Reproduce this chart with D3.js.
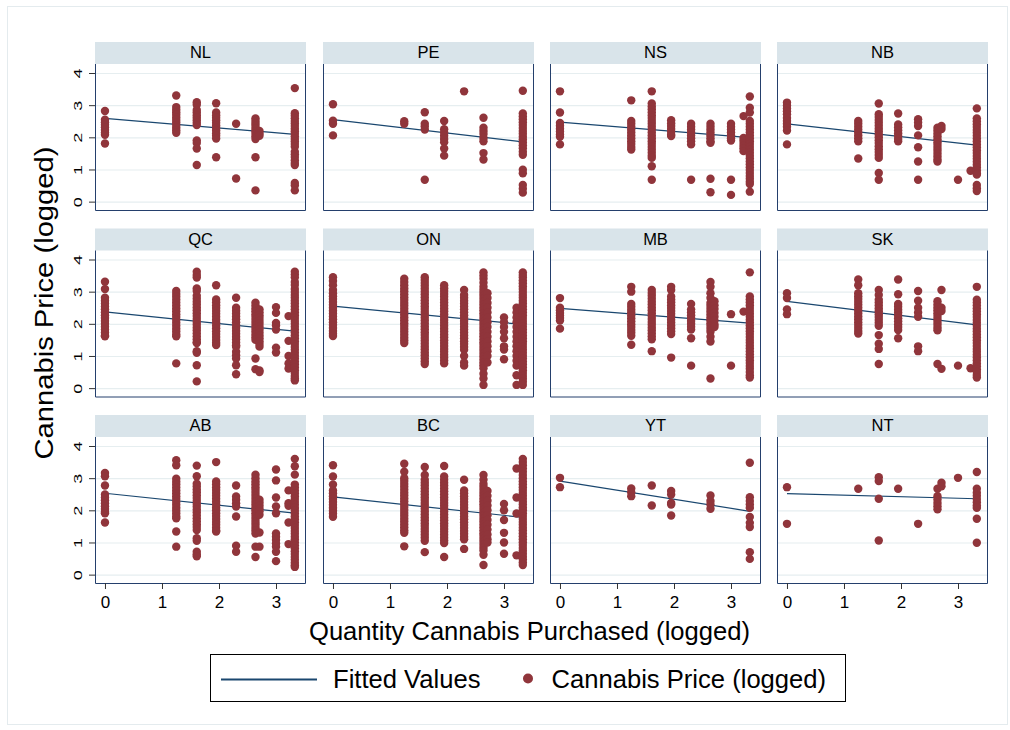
<!DOCTYPE html>
<html>
<head>
<meta charset="utf-8">
<script src="https://cdn.jsdelivr.net/npm/d3@7"></script>
<style>
  html, body { margin: 0; padding: 0; background: #fff; }
  svg { display: block; }
  text { font-family: "Liberation Sans", Arial, Helvetica, sans-serif; fill: #000; }
</style>
</head>
<body>
<svg id="chart" width="1010" height="730"></svg>
<script>
// Province panels, in display order (4 per row)
const provinces = ["NL", "PE", "NS", "NB", "QC", "ON", "MB", "SK", "AB", "BC", "YT", "NT"];

// Purchase sizes (log grams) that the price columns line up with
const quantityLevels = [0, 1.25, 1.61, 1.95, 2.30, 2.64, 2.71, 3.00, 3.22, 3.33];

// Axis ticks
const priceTicks = [0, 1, 2, 3, 4];
const quantityTicks = [0, 1, 2, 3];

// Logged prices, one list per quantity level
const priceNL = [
  [2.82, 2.55, 2.47, 2.39, 2.31, 2.23, 2.15, 2.08, 1.81],
  [3.30, 2.94, 2.86, 2.78, 2.70, 2.62, 2.54, 2.46, 2.38, 2.30, 2.22, 2.14],
  [3.09, 3.01, 2.85, 2.77, 2.69, 2.61, 2.53, 2.45, 2.38, 1.90, 1.82, 1.65, 1.14],
  [3.06, 2.77, 2.69, 2.61, 2.53, 2.45, 2.37, 2.29, 2.21, 2.13, 2.05, 1.96, 1.38],
  [2.42, 0.72],
  [2.59, 2.51, 2.43, 2.35, 2.27, 2.19, 2.11, 2.03, 1.95, 1.38, 0.35],
  [2.20, 2.12, 2.05],
  [],
  [],
  [3.53, 2.75, 2.67, 2.59, 2.51, 2.43, 2.35, 2.27, 2.19, 2.11, 2.03, 1.95, 1.87, 1.79, 1.71, 1.55, 1.47, 1.39, 1.29, 1.20, 1.14, 0.58, 0.50, 0.35]
];
const pricePE = [
  [3.03, 2.52, 2.42, 2.06],
  [2.50, 2.42],
  [2.78, 2.42, 2.34, 2.24, 0.68],
  [2.51, 2.25, 2.15, 2.05, 1.95, 1.85, 1.65, 1.43],
  [3.43],
  [2.61, 2.30, 2.20, 2.10, 1.98, 1.88, 1.51, 1.31],
  [],
  [],
  [],
  [3.45, 2.74, 2.65, 2.56, 2.47, 2.38, 2.29, 2.20, 2.11, 2.02, 1.93, 1.84, 1.75, 1.66, 1.55, 1.46, 0.99, 0.88, 0.52, 0.40, 0.28]
];
const priceNS = [
  [3.43, 2.77, 2.45, 2.36, 2.27, 2.18, 2.09, 2.02, 1.78],
  [3.15, 2.51, 2.42, 2.33, 2.24, 2.15, 2.06, 1.97, 1.88, 1.79, 1.70, 1.62],
  [3.43, 3.05, 2.96, 2.87, 2.78, 2.69, 2.60, 2.51, 2.42, 2.33, 2.24, 2.15, 2.06, 1.97, 1.88, 1.79, 1.70, 1.61, 1.52, 1.43, 1.36, 1.10, 0.68],
  [2.53, 2.44, 2.35, 2.26, 2.17, 2.08, 2.04],
  [2.42, 2.33, 2.24, 2.15, 2.06, 1.97, 1.88, 1.78, 0.68],
  [2.42, 2.33, 2.24, 2.15, 2.06, 1.97, 1.88, 1.83, 0.71, 0.29],
  [],
  [2.42, 2.33, 2.24, 2.15, 2.06, 1.97, 1.90, 0.68, 0.21],
  [2.66, 1.98, 1.90, 1.82, 1.74, 1.66, 1.57],
  [3.27, 2.92, 2.77, 2.51, 2.42, 2.33, 2.24, 2.15, 2.06, 1.97, 1.88, 1.79, 1.70, 1.61, 1.52, 1.43, 1.34, 1.25, 1.16, 1.07, 0.98, 0.89, 0.80, 0.71, 0.62, 0.55, 0.31]
];
const priceNB = [
  [3.08, 2.99, 2.90, 2.81, 2.72, 2.60, 2.51, 2.42, 2.33, 2.21, 1.78],
  [2.51, 2.42, 2.33, 2.24, 2.15, 2.06, 1.97, 1.88, 1.34],
  [3.05, 2.72, 2.63, 2.54, 2.45, 2.36, 2.27, 2.18, 2.09, 2.00, 1.91, 1.82, 1.72, 1.63, 1.54, 1.45, 1.36, 0.89, 0.68],
  [2.74, 2.40, 2.31, 2.22, 2.13, 2.04, 1.95, 1.88],
  [2.56, 2.46, 2.35, 2.06, 1.69, 1.25, 0.68],
  [2.30, 2.21, 2.12, 2.03, 1.94, 1.85, 1.76, 1.67, 1.58, 1.49, 1.40, 1.31, 1.25],
  [2.35, 2.26],
  [0.68],
  [0.96],
  [2.90, 2.59, 2.50, 2.41, 2.32, 2.23, 2.14, 2.05, 1.96, 1.87, 1.78, 1.69, 1.60, 1.51, 1.42, 1.33, 1.24, 1.15, 1.06, 0.97, 0.88, 0.84, 0.52, 0.42, 0.33]
];
const priceQC = [
  [3.31, 3.08, 2.81, 2.72, 2.63, 2.54, 2.45, 2.36, 2.27, 2.18, 2.09, 2.00, 1.91, 1.82, 1.73, 1.64, 1.61],
  [3.02, 2.93, 2.84, 2.75, 2.66, 2.57, 2.48, 2.39, 2.30, 2.21, 2.12, 2.03, 1.94, 1.85, 1.76, 1.67, 1.61, 0.77],
  [3.62, 3.52, 3.44, 3.10, 3.02, 2.87, 2.78, 2.69, 2.60, 2.51, 2.42, 2.33, 2.24, 2.15, 2.06, 1.97, 1.88, 1.79, 1.70, 1.61, 1.52, 1.43, 1.40, 1.15, 1.10, 0.71, 0.21],
  [3.20, 2.76, 2.67, 2.58, 2.49, 2.40, 2.31, 2.22, 2.13, 2.04, 1.95, 1.86, 1.77, 1.68, 1.59, 1.50, 1.41, 1.34],
  [2.81, 2.50, 2.41, 2.32, 2.23, 2.14, 2.05, 1.96, 1.87, 1.78, 1.69, 1.60, 1.51, 1.42, 1.33, 1.29, 1.13, 1.02, 0.92, 0.71, 0.43],
  [2.66, 2.57, 2.48, 2.39, 2.30, 2.21, 2.12, 2.03, 1.94, 1.85, 1.76, 1.67, 1.58, 1.50, 0.92, 0.59],
  [2.45, 2.36, 2.27, 2.18, 2.09, 2.00, 1.91, 1.82, 1.73, 1.64, 1.55, 1.46, 1.37, 1.29, 0.55, 0.50],
  [2.52, 2.34, 2.03, 1.95, 1.82, 1.26, 1.11],
  [2.24, 1.47, 1.00, 0.77, 0.61],
  [3.62, 3.53, 3.44, 3.30, 3.21, 3.08, 2.99, 2.90, 2.81, 2.72, 2.63, 2.54, 2.45, 2.36, 2.27, 2.18, 2.09, 2.00, 1.91, 1.82, 1.73, 1.64, 1.55, 1.46, 1.37, 1.28, 1.19, 1.10, 1.01, 0.92, 0.83, 0.74, 0.65, 0.56, 0.47, 0.38, 0.30, 0.24]
];
const priceON = [
  [3.45, 3.33, 3.20, 3.05, 2.95, 2.86, 2.77, 2.68, 2.59, 2.50, 2.41, 2.32, 2.23, 2.14, 2.05, 1.96, 1.87, 1.78, 1.69, 1.62],
  [3.40, 3.30, 3.20, 3.10, 3.01, 2.92, 2.83, 2.74, 2.65, 2.56, 2.47, 2.38, 2.29, 2.20, 2.11, 2.02, 1.93, 1.84, 1.75, 1.66, 1.57, 1.48, 1.40],
  [3.45, 3.36, 3.27, 3.18, 3.09, 3.00, 2.91, 2.82, 2.73, 2.64, 2.55, 2.46, 2.37, 2.28, 2.19, 2.10, 2.01, 1.92, 1.83, 1.74, 1.65, 1.56, 1.47, 1.38, 1.29, 1.20, 1.11, 1.02, 0.93, 0.84, 0.75],
  [3.20, 3.11, 3.02, 2.93, 2.84, 2.75, 2.66, 2.57, 2.48, 2.39, 2.30, 2.21, 2.12, 2.03, 1.94, 1.85, 1.76, 1.67, 1.58, 1.49, 1.40, 1.31, 1.22, 1.13, 1.04, 0.95, 0.86, 0.77],
  [3.05, 2.90, 2.81, 2.72, 2.63, 2.54, 2.45, 2.36, 2.27, 2.18, 2.09, 2.00, 1.91, 1.82, 1.73, 1.64, 1.55, 1.46, 1.37, 1.28, 1.19, 1.00, 0.80, 0.70],
  [3.60, 3.50, 3.40, 3.28, 3.15, 3.05, 2.96, 2.87, 2.78, 2.69, 2.60, 2.51, 2.42, 2.33, 2.24, 2.15, 2.06, 1.97, 1.88, 1.79, 1.70, 1.61, 1.52, 1.43, 1.34, 1.25, 1.16, 1.07, 0.98, 0.89, 0.80, 0.71, 0.62, 0.45, 0.30, 0.10],
  [2.95, 2.80, 2.65, 2.50, 2.35, 2.20, 2.05, 1.90, 1.75, 1.60, 1.45, 1.30, 1.15, 1.00, 0.80],
  [2.20, 2.05, 1.90, 1.75, 1.55, 1.30, 1.20, 0.90],
  [2.50, 2.35, 2.20, 2.05, 1.90, 1.75, 1.60, 1.45, 1.30, 1.15, 1.00, 0.85, 0.70, 0.40, 0.10],
  [3.60, 3.52, 3.44, 3.35, 3.26, 3.17, 3.08, 2.99, 2.90, 2.81, 2.72, 2.63, 2.54, 2.45, 2.36, 2.27, 2.18, 2.09, 2.00, 1.91, 1.82, 1.73, 1.64, 1.55, 1.46, 1.37, 1.28, 1.19, 1.10, 1.01, 0.92, 0.83, 0.74, 0.65, 0.56, 0.47, 0.38, 0.29, 0.20, 0.10]
];
const priceMB = [
  [2.80, 2.50, 2.42, 2.34, 2.26, 2.18, 2.10, 1.85],
  [3.15, 3.00, 2.62, 2.53, 2.44, 2.35, 2.26, 2.17, 2.08, 1.99, 1.90, 1.81, 1.72, 1.63, 1.35],
  [3.05, 2.96, 2.87, 2.78, 2.69, 2.60, 2.51, 2.42, 2.33, 2.24, 2.15, 2.06, 1.97, 1.88, 1.79, 1.70, 1.61, 1.52, 1.15],
  [3.15, 3.05, 2.85, 2.76, 2.67, 2.58, 2.49, 2.40, 2.31, 2.22, 2.13, 2.04, 1.95, 1.86, 1.77, 1.68, 0.95],
  [2.62, 2.45, 2.36, 2.27, 2.18, 2.09, 2.00, 1.91, 1.82, 1.55, 0.70],
  [3.30, 3.15, 2.95, 2.80, 2.65, 2.56, 2.47, 2.38, 2.29, 2.20, 2.11, 2.02, 1.93, 1.84, 1.75, 1.60, 1.45, 0.30],
  [2.70, 2.58, 2.46, 2.34, 2.22, 2.10, 1.98, 1.90],
  [2.30, 0.70],
  [2.38],
  [3.60, 2.85, 2.76, 2.67, 2.58, 2.49, 2.40, 2.31, 2.22, 2.13, 2.04, 1.95, 1.86, 1.77, 1.68, 1.59, 1.50, 1.41, 1.32, 1.23, 1.14, 1.05, 0.96, 0.87, 0.78, 0.69, 0.60, 0.50, 0.40, 0.33]
];
const priceSK = [
  [2.95, 2.80, 2.45, 2.30],
  [3.38, 3.20, 2.95, 2.86, 2.77, 2.68, 2.59, 2.50, 2.41, 2.32, 2.23, 2.14, 2.05, 1.96, 1.87, 1.78, 1.70],
  [3.05, 2.90, 2.75, 2.66, 2.57, 2.48, 2.39, 2.30, 2.21, 2.12, 2.03, 1.94, 1.65, 1.38, 1.22, 0.75],
  [3.38, 2.92, 2.62, 2.53, 2.44, 2.35, 2.26, 2.17, 2.08, 1.99, 1.90, 1.81, 1.55],
  [3.02, 2.72, 2.50, 2.35, 2.22, 1.30, 1.15],
  [2.70, 2.60, 2.51, 2.42, 2.33, 2.24, 2.15, 2.06, 1.97, 1.88, 1.80, 0.75],
  [3.05, 2.50, 2.40, 0.60],
  [0.70],
  [0.62],
  [3.15, 2.75, 2.66, 2.57, 2.48, 2.39, 2.30, 2.21, 2.12, 2.03, 1.94, 1.85, 1.76, 1.67, 1.58, 1.49, 1.40, 1.31, 1.22, 1.13, 1.04, 0.95, 0.86, 0.77, 0.68, 0.59, 0.50, 0.41, 0.33]
];
const priceAB = [
  [3.16, 3.06, 2.77, 2.49, 2.40, 2.31, 2.22, 2.13, 2.04, 1.95, 1.91, 1.62],
  [3.56, 3.40, 2.98, 2.89, 2.80, 2.71, 2.62, 2.53, 2.44, 2.35, 2.26, 2.17, 2.08, 1.99, 1.90, 1.81, 1.75, 1.34, 0.87],
  [3.39, 3.06, 2.83, 2.74, 2.65, 2.56, 2.47, 2.38, 2.29, 2.20, 2.11, 2.02, 1.93, 1.84, 1.75, 1.66, 1.57, 1.48, 1.39, 1.13, 1.05, 0.71, 0.63, 0.57],
  [3.50, 2.90, 2.81, 2.72, 2.63, 2.54, 2.45, 2.36, 2.27, 2.18, 2.09, 2.00, 1.91, 1.82, 1.73, 1.64, 1.55, 1.46, 1.37, 1.34],
  [2.77, 2.43, 2.33, 2.22, 2.12, 1.81, 0.90, 0.71],
  [3.11, 3.00, 2.90, 2.81, 2.72, 2.63, 2.54, 2.45, 2.36, 2.27, 2.18, 2.09, 2.00, 1.91, 1.82, 1.73, 1.64, 1.55, 1.46, 1.37, 1.28, 0.87, 0.55],
  [2.33, 2.24, 2.15, 2.06, 1.97, 1.86, 1.31, 0.87],
  [3.27, 2.93, 2.40, 2.12, 1.91, 1.28, 1.18, 1.08, 0.97, 0.87, 0.71, 0.42],
  [2.62, 2.22, 2.14, 1.62, 0.95],
  [3.60, 3.37, 3.11, 2.80, 2.71, 2.62, 2.53, 2.44, 2.35, 2.26, 2.17, 2.08, 1.99, 1.90, 1.81, 1.72, 1.63, 1.54, 1.45, 1.36, 1.27, 1.18, 1.09, 1.00, 0.91, 0.82, 0.73, 0.64, 0.55, 0.46, 0.37, 0.29, 0.24]
];
const priceBC = [
  [3.40, 3.05, 2.80, 2.62, 2.53, 2.44, 2.35, 2.26, 2.17, 2.08, 1.99, 1.90, 1.80],
  [3.45, 3.20, 3.00, 2.91, 2.82, 2.73, 2.64, 2.55, 2.46, 2.37, 2.28, 2.19, 2.10, 2.01, 1.92, 1.83, 1.74, 1.65, 1.56, 1.47, 1.38, 1.30, 0.88],
  [3.35, 3.10, 2.95, 2.86, 2.77, 2.68, 2.59, 2.50, 2.41, 2.32, 2.23, 2.14, 2.05, 1.96, 1.87, 1.78, 1.69, 1.60, 1.51, 1.42, 1.33, 1.24, 1.15, 1.05, 0.70],
  [3.38, 3.05, 2.95, 2.86, 2.77, 2.68, 2.59, 2.50, 2.41, 2.32, 2.23, 2.14, 2.05, 1.96, 1.87, 1.78, 1.69, 1.60, 1.51, 1.42, 1.33, 1.24, 1.15, 1.06, 0.98, 0.55],
  [2.95, 2.62, 2.53, 2.44, 2.35, 2.26, 2.17, 2.08, 1.99, 1.90, 1.81, 1.72, 1.63, 1.54, 1.45, 1.36, 1.27, 1.18, 1.10, 0.80],
  [3.10, 2.95, 2.82, 2.73, 2.64, 2.55, 2.46, 2.37, 2.28, 2.19, 2.10, 2.01, 1.92, 1.83, 1.74, 1.65, 1.56, 1.47, 1.38, 1.29, 1.20, 1.11, 1.02, 0.93, 0.84, 0.75, 0.62, 0.30],
  [2.60, 2.45, 2.30, 2.15, 2.00, 1.85, 1.70, 1.55, 1.40, 1.25, 1.10, 1.00],
  [2.20, 2.00, 1.70, 1.30, 1.00, 0.65],
  [3.30, 2.40, 1.90, 0.60],
  [3.60, 3.50, 3.40, 3.30, 3.20, 3.10, 3.00, 2.90, 2.81, 2.72, 2.63, 2.54, 2.45, 2.36, 2.27, 2.18, 2.09, 2.00, 1.91, 1.82, 1.73, 1.64, 1.55, 1.46, 1.37, 1.28, 1.19, 1.10, 1.01, 0.92, 0.83, 0.74, 0.65, 0.56, 0.47, 0.38, 0.30]
];
const priceYT = [
  [3.01, 2.72],
  [2.68, 2.56, 2.44],
  [2.77, 2.15],
  [2.60, 2.49, 2.23, 2.18, 1.84],
  [],
  [2.46, 2.29, 2.18, 2.05],
  [],
  [],
  [],
  [3.48, 2.41, 2.29, 2.18, 2.08, 1.79, 1.61, 1.48, 0.70, 0.49]
];
const priceNT = [
  [2.72, 1.58],
  [2.67],
  [3.03, 2.91, 2.36, 1.06],
  [2.67],
  [1.58],
  [2.67, 2.44, 2.34, 2.23, 2.13, 2.03],
  [2.86, 2.75],
  [3.01],
  [],
  [3.19, 2.67, 2.55, 2.45, 2.35, 2.25, 2.15, 2.08, 1.74, 0.99]
];

// Fitted values at the smallest and largest quantity, in province order
const fitAtMin = [2.59, 2.55, 2.47, 2.42, 2.37, 2.55, 2.48, 2.70, 2.53, 2.42, 2.91, 2.52];
const fitAtMax = [2.09, 1.86, 1.99, 1.76, 1.77, 1.98, 2.02, 1.97, 1.91, 1.78, 1.97, 2.36];

const priceTables = [priceNL, pricePE, priceNS, priceNB, priceQC, priceON,
                     priceMB, priceSK, priceAB, priceBC, priceYT, priceNT];

// ---- layout ----
const colLeft = [95, 323, 550, 777];
const rowTop = [42, 228.5, 415];
const panelW = 211, stripH = 22, plotH = 146;

const markerColor = "#90353b";
const lineColor = "#1a476f";
const stripColor = "#d9e4ea";
const gridColor = "#e6eef0";
const frameColor = "#243f6c";

const x = d3.scaleLinear().domain([-0.175, 3.526]).range([0, panelW]);
const y = d3.scaleLinear().domain([-0.26, 4.28]).range([plotH, 0]);

const svg = d3.select("#chart");

// outer graph region outline
svg.append("rect")
  .attr("x", 7.5).attr("y", 6.5).attr("width", 1000).attr("height", 718)
  .attr("fill", "#fff").attr("stroke", "#e4ebee");

provinces.forEach((code, i) => {
  const r = Math.floor(i / 4), c = i % 4;
  const g = svg.append("g").attr("transform", `translate(${colLeft[c]},${rowTop[r]})`);

  // strip with the province code
  g.append("rect").attr("x", 0).attr("y", 0).attr("width", panelW).attr("height", stripH)
    .attr("fill", stripColor);
  g.append("text").attr("x", panelW / 2).attr("y", 16)
    .attr("text-anchor", "middle").attr("font-size", 16.5).text(code);

  const p = g.append("g").attr("transform", `translate(0,${stripH})`);

  // horizontal grid
  p.selectAll("line.grid").data(priceTicks).join("line")
    .attr("class", "grid")
    .attr("x1", 0).attr("x2", panelW)
    .attr("y1", d => y(d) + 0.5).attr("y2", d => y(d) + 0.5)
    .attr("stroke", gridColor).attr("stroke-width", 1.2);

  // fitted line
  const fitData = [[quantityLevels[0], fitAtMin[i]], [quantityLevels[quantityLevels.length - 1], fitAtMax[i]]];
  p.append("path")
    .attr("d", d3.line().x(d => x(d[0])).y(d => y(d[1]))(fitData))
    .attr("fill", "none").attr("stroke", lineColor).attr("stroke-width", 1.2);

  // observations
  const pts = [];
  priceTables[i].forEach((col, k) => col.forEach(v => pts.push([quantityLevels[k], v])));
  p.selectAll("circle").data(pts).join("circle")
    .attr("cx", d => x(d[0])).attr("cy", d => y(d[1]))
    .attr("r", 4.2).attr("fill", markerColor);

  // plot region outline (left, bottom, right)
  p.append("path")
    .attr("d", `M0.5,0V${plotH + 0.5}H${panelW - 0.5}V0`)
    .attr("fill", "none").attr("stroke", frameColor).attr("stroke-width", 1);

  // y axis on the first column
  if (c === 0) {
    const ax = p.append("g")
      .call(d3.axisLeft(y).tickValues(priceTicks).tickSize(6).tickSizeOuter(0).tickFormat(d3.format("d")));
    ax.select(".domain").remove();
    ax.selectAll(".tick line").attr("stroke", "#333");
    ax.selectAll(".tick text")
      .attr("x", 0).attr("dy", 0)
      .attr("text-anchor", "middle")
      .attr("transform", "translate(-13,0) rotate(-90)")
      .attr("font-size", 11.5)
      .attr("textLength", 10).attr("lengthAdjust", "spacingAndGlyphs")
      .attr("fill", "#000");
    ax.attr("font-family", null);
  }

  // x axis on the bottom row
  if (r === 2) {
    const ax = p.append("g").attr("transform", `translate(0,${plotH})`)
      .call(d3.axisBottom(x).tickValues(quantityTicks).tickSize(6).tickSizeOuter(0).tickFormat(d3.format("d")));
    ax.select(".domain").remove();
    ax.selectAll(".tick line").attr("stroke", "#333");
    ax.selectAll(".tick text").attr("y", 13).attr("font-size", 17).attr("fill", "#000");
    ax.attr("font-family", null);
  }
});

// axis titles
svg.append("text")
  .attr("transform", "translate(53,303) rotate(-90)")
  .attr("text-anchor", "middle").attr("font-size", 25.6)
  .attr("textLength", 313).attr("lengthAdjust", "spacingAndGlyphs")
  .text("Cannabis Price (logged)");

svg.append("text")
  .attr("x", 529.5).attr("y", 640)
  .attr("text-anchor", "middle").attr("font-size", 25.6)
  .text("Quantity Cannabis Purchased (logged)");

// legend
const legend = svg.append("g");
legend.append("rect")
  .attr("x", 210.5).attr("y", 654.5).attr("width", 635).attr("height", 47)
  .attr("fill", "#fff").attr("stroke", "#000").attr("stroke-width", 1);
legend.append("line")
  .attr("x1", 221).attr("x2", 317).attr("y1", 679.5).attr("y2", 679.5)
  .attr("stroke", lineColor).attr("stroke-width", 2);
legend.append("text").attr("x", 333).attr("y", 688).attr("font-size", 25.6).text("Fitted Values");
legend.append("circle").attr("cx", 528).attr("cy", 678.5).attr("r", 5).attr("fill", markerColor);
legend.append("text").attr("x", 551.5).attr("y", 688).attr("font-size", 25.6).text("Cannabis Price (logged)");
</script>
</body>
</html>
